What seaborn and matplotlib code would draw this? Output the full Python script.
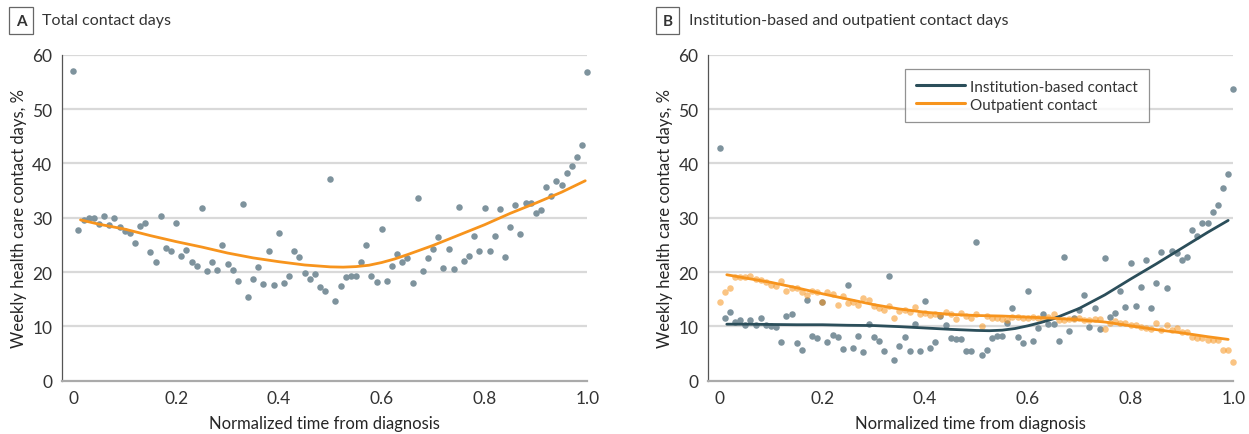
import matplotlib
matplotlib.use("Agg")
import matplotlib.pyplot as plt
import pandas as pd
import seaborn as sns
from matplotlib.lines import Line2D

# -----------------------------
# Dados
# -----------------------------
time_pts = [
    0.00, 0.01, 0.02, 0.03, 0.04, 0.05, 0.06, 0.07, 0.08, 0.09,
    0.10, 0.11, 0.12, 0.13, 0.14, 0.15, 0.16, 0.17, 0.18, 0.19,
    0.20, 0.21, 0.22, 0.23, 0.24, 0.25, 0.26, 0.27, 0.28, 0.29,
    0.30, 0.31, 0.32, 0.33, 0.34, 0.35, 0.36, 0.37, 0.38, 0.39,
    0.40, 0.41, 0.42, 0.43, 0.44, 0.45, 0.46, 0.47, 0.48, 0.49,
    0.50, 0.51, 0.52, 0.53, 0.54, 0.55, 0.56, 0.57, 0.58, 0.59,
    0.60, 0.61, 0.62, 0.63, 0.64, 0.65, 0.66, 0.67, 0.68, 0.69,
    0.70, 0.71, 0.72, 0.73, 0.74, 0.75, 0.76, 0.77, 0.78, 0.79,
    0.80, 0.81, 0.82, 0.83, 0.84, 0.85, 0.86, 0.87, 0.88, 0.89,
    0.90, 0.91, 0.92, 0.93, 0.94, 0.95, 0.96, 0.97, 0.98, 0.99,
    1.00,
]

total_days = [
    57.0, 27.7, 29.6, 30.0, 30.0, 28.9, 30.3, 28.7, 30.0, 28.2,
    27.6, 27.2, 25.3, 28.5, 29.1, 23.6, 21.8, 30.3, 24.5, 23.9,
    29.0, 23.0, 24.1, 21.9, 21.2, 31.8, 20.2, 21.9, 20.3, 25.0,
    21.4, 20.4, 18.4, 32.6, 15.4, 18.7, 20.9, 17.8, 23.8, 17.6,
    27.1, 18.0, 19.2, 23.9, 22.7, 19.8, 18.8, 19.6, 17.3, 16.6,
    37.2, 14.6, 17.4, 19.0, 19.2, 19.2, 21.8, 24.9, 19.2, 18.2,
    27.9, 18.4, 21.1, 23.3, 21.9, 22.6, 17.9, 33.6, 20.2, 22.6,
    24.2, 26.5, 20.7, 24.2, 20.6, 32.0, 22.0, 23.0, 26.6, 23.9,
    31.7, 23.8, 26.7, 31.6, 22.7, 28.3, 32.4, 27.0, 32.7, 32.7,
    30.9, 31.5, 35.7, 34.0, 36.7, 36.1, 38.2, 39.5, 41.1, 43.4,
    56.8,
]

inst_days = [
    42.8, 11.5, 12.6, 10.8, 11.1, 10.3, 11.2, 10.3, 11.5, 10.3,
    10.0, 9.8, 7.1, 11.9, 12.2, 6.9, 5.7, 14.8, 8.3, 7.9,
    14.5, 7.1, 8.4, 8.0, 5.8, 17.7, 6.0, 8.2, 5.2, 10.4,
    8.0, 7.3, 5.4, 19.3, 3.9, 6.4, 8.1, 5.5, 10.5, 5.5,
    14.7, 6.1, 7.1, 11.9, 10.3, 7.8, 7.7, 7.6, 5.5, 5.5,
    25.5, 4.7, 5.7, 7.8, 8.3, 8.3, 10.7, 13.3, 8.0, 6.9,
    16.6, 7.3, 9.7, 12.3, 10.5, 10.5, 7.3, 22.8, 9.1, 11.6,
    13.0, 15.7, 9.8, 13.3, 9.6, 22.5, 11.7, 12.5, 16.5, 13.6,
    21.7, 13.8, 17.3, 22.3, 13.4, 18.0, 23.6, 17.1, 23.8, 23.5,
    22.2, 22.8, 27.7, 26.6, 29.1, 29.0, 31.1, 32.3, 35.5, 38.0,
    53.7,
]

outp_days = [
    14.4, 16.4, 17.1, 19.1, 19.0, 19.0, 19.2, 18.7, 18.5, 18.1,
    17.7, 17.4, 18.4, 16.6, 17.1, 17.0, 16.3, 15.8, 16.6, 16.4,
    14.5, 16.3, 16.0, 13.9, 15.6, 14.3, 14.5, 13.9, 15.2, 14.9,
    13.7, 13.4, 13.1, 13.7, 11.5, 12.8, 13.0, 12.6, 13.5, 12.3,
    12.5, 12.1, 12.3, 12.1, 12.7, 12.3, 11.3, 12.4, 12.0, 11.5,
    12.3, 10.1, 12.0, 11.5, 11.5, 11.4, 11.2, 11.7, 11.7, 11.6,
    11.6, 11.7, 11.5, 11.4, 11.7, 12.2, 11.1, 11.1, 11.3, 11.4,
    11.5, 11.2, 11.2, 11.4, 11.3, 9.6, 10.7, 10.9, 10.7, 10.6,
    10.2, 10.3, 9.8, 9.7, 9.6, 10.6, 9.3, 10.2, 9.3, 9.7,
    8.9, 8.9, 8.1, 7.8, 7.8, 7.5, 7.5, 7.5, 5.7, 5.7,
    3.4,
]

# curvas ajustadas
fit_t_a = [0.014, 0.05, 0.10, 0.15, 0.20, 0.25, 0.30, 0.35, 0.40, 0.45, 0.50,
           0.525, 0.55, 0.575, 0.60, 0.625, 0.65, 0.70, 0.75, 0.80, 0.85,
           0.90, 0.95, 0.996]
total_fit = [29.6, 28.8, 27.9, 26.7, 25.6, 24.6, 23.5, 22.6, 21.9, 21.3, 20.95,
             20.9, 21.0, 21.25, 21.75, 22.4, 23.2, 24.9, 26.8, 28.7, 30.8,
             32.7, 34.7, 36.8]

fit_t_b = [0.014, 0.05, 0.10, 0.15, 0.20, 0.25, 0.30, 0.35, 0.40, 0.45, 0.50,
           0.525, 0.55, 0.575, 0.60, 0.625, 0.65, 0.70, 0.75, 0.80, 0.85,
           0.90, 0.95, 0.99]
inst_fit = [10.4, 10.4, 10.35, 10.3, 10.3, 10.2, 10.15, 9.95, 9.7, 9.45, 9.25,
            9.2, 9.3, 9.6, 10.1, 10.7, 11.4, 13.3, 15.8, 18.7, 21.5,
            24.4, 27.3, 29.5]
outp_fit = [19.5, 18.9, 18.1, 17.1, 16.0, 15.0, 14.0, 13.2, 12.6, 12.2, 12.0,
            11.95, 11.9, 11.8, 11.7, 11.6, 11.5, 11.2, 10.8, 10.1, 9.4,
            8.8, 8.1, 7.6]

panel_titles = ["Total contact days", "Institution-based and outpatient contact days"]
series_names = ["Institution-based contact", "Outpatient contact"]

# -----------------------------
# Estilo
# -----------------------------
sns.set_style("white")
plt.rcParams["font.family"] = ["Lato", "DejaVu Sans"]
plt.rcParams["text.color"] = "#333333"

DOT_GRAY = "#7e939d"
ORANGE = "#f7941d"
TEAL = "#2b4e5a"
GRID = "#d9d9d9"


def _style_axis(ax):
    ax.set_xlim(-0.022, 1.0)
    ax.set_ylim(0, 60)
    ax.set_yticks(range(0, 61, 10))
    ax.set_xticks([0, 0.2, 0.4, 0.6, 0.8, 1.0])
    ax.set_xticklabels(["0", "0.2", "0.4", "0.6", "0.8", "1.0"])
    for yv in range(10, 61, 10):
        ax.axhline(yv, color=GRID, lw=1.6, zorder=0)
    for s in ["top", "right"]:
        ax.spines[s].set_visible(False)
    ax.spines["left"].set_color("#555555")
    ax.spines["left"].set_linewidth(0.9)
    ax.spines["bottom"].set_color("#aaaaaa")
    ax.spines["bottom"].set_linewidth(1.6)
    ax.tick_params(axis="both", direction="out", length=4, width=0.9,
                   color="#555555", labelsize=12.5, labelcolor="#333333", pad=3)
    ax.set_xlabel("Normalized time from diagnosis", fontsize=12, labelpad=6)
    ax.set_ylabel("Weekly health care contact days, %", fontsize=12, labelpad=4)


def _panel_title(fig, x_box, x_txt, letra, titulo):
    fig.text(x_box, 1 - 21.5 / 435, letra, fontsize=11, fontweight="bold",
             ha="center", va="center",
             bbox=dict(boxstyle="square,pad=0.42", fc="white", ec="#666666", lw=0.9))
    fig.text(x_txt, 1 - 21.5 / 435, titulo, fontsize=11.5, ha="left", va="center")


fig = plt.figure(figsize=(12.49, 4.35), dpi=100)
ax_a = fig.add_axes([62 / 1249, 1 - 381.7 / 435, (587.3 - 62) / 1249, 326 / 435])
ax_b = fig.add_axes([708.3 / 1249, 1 - 381.7 / 435, (1233.3 - 708.3) / 1249, 326 / 435])

# -----------------------------
# A) Total
# -----------------------------
df_a = pd.DataFrame({"t": time_pts, "pct": total_days})
fit_a = pd.DataFrame({"t": fit_t_a, "pct": total_fit})
sns.scatterplot(data=df_a, x="t", y="pct", ax=ax_a, color=DOT_GRAY, s=22,
                linewidth=0, zorder=3, clip_on=False)
sns.lineplot(data=fit_a, x="t", y="pct", ax=ax_a, color=ORANGE, lw=2, zorder=4)
_style_axis(ax_a)

# -----------------------------
# B) Institucional vs ambulatorial
# -----------------------------
df_b = pd.DataFrame({"t": time_pts, "inst": inst_days, "outp": outp_days})
fit_b = pd.DataFrame({"t": fit_t_b, "inst": inst_fit, "outp": outp_fit})
sns.scatterplot(data=df_b, x="t", y="inst", ax=ax_b, color=DOT_GRAY, s=22,
                linewidth=0, zorder=3, clip_on=False)
sns.scatterplot(data=df_b, x="t", y="outp", ax=ax_b, color=ORANGE, s=22,
                linewidth=0, alpha=0.55, zorder=3, clip_on=False)
sns.lineplot(data=fit_b, x="t", y="inst", ax=ax_b, color=TEAL, lw=2, zorder=4)
sns.lineplot(data=fit_b, x="t", y="outp", ax=ax_b, color=ORANGE, lw=2, zorder=4)
_style_axis(ax_b)

handles = [Line2D([], [], color=TEAL, lw=2.2), Line2D([], [], color=ORANGE, lw=2.2)]
leg = ax_b.legend(handles, series_names, loc="upper left", bbox_to_anchor=(0.375, 0.956),
                  borderaxespad=0, frameon=True, fancybox=False, fontsize=11,
                  handlelength=3.2, handletextpad=0.35, labelspacing=0.25,
                  borderpad=0.7)
leg.get_frame().set_edgecolor("#777777")
leg.get_frame().set_linewidth(0.9)
leg.set_zorder(6)

_panel_title(fig, 21 / 1249, 42.5 / 1249, "A", panel_titles[0])
_panel_title(fig, 667.5 / 1249, 688.5 / 1249, "B", panel_titles[1])

fig.savefig("out.png", dpi=100)
plt.close(fig)
